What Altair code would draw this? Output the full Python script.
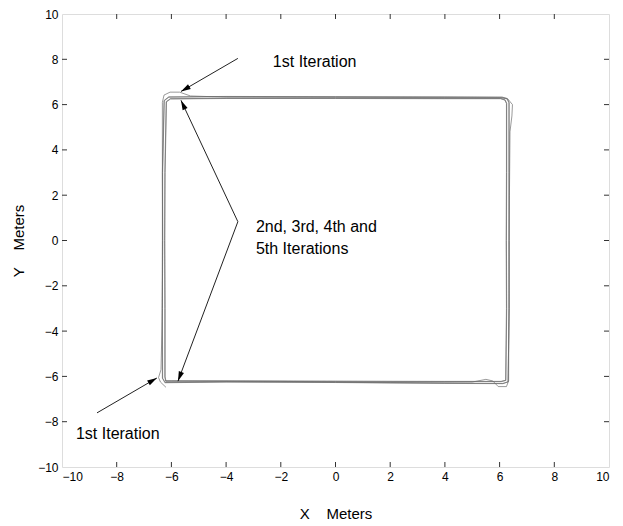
import math
import altair as alt
import pandas as pd

W, H = 547, 453
FONT = "Liberation Sans"

tick_values = [-10, -8, -6, -4, -2, 0, 2, 4, 6, 8, 10]
inner_ticks = [-8, -6, -4, -2, 0, 2, 4, 6, 8]

# Robot path, five iterations round the square (clockwise from bottom-left)
it1_x = [-6.20, -6.40, -6.47, -6.38, -6.33, -6.32, -6.33, -6.33, -6.27, -6.05, -5.70, -5.30, -4.0, 0.0, 4.0, 6.00, 6.30, 6.47, 6.45, 6.38, 6.36, 6.35, 6.34, 6.33, 6.25, 5.95, 5.75, 5.50, 5.0, 2.0, -2.0, -6.00, -6.22]
it1_y = [-6.48, -6.25, -6.05, -5.70, -3.0, 0.0, 3.0, 6.10, 6.42, 6.55, 6.55, 6.38, 6.33, 6.32, 6.31, 6.30, 6.25, 6.00, 5.50, 4.80, 2.0, 0.0, -3.0, -6.20, -6.45, -6.45, -6.20, -6.13, -6.25, -6.27, -6.22, -6.20, -6.20]

it2_x = [-6.22, -6.33, -6.34, -6.33, -6.33, -6.27, -6.10, -4.0, 0.0, 4.0, 6.10, 6.28, 6.35, 6.35, 6.35, 6.35, 6.31, 6.12, 4.0, 0.0, -4.0, -6.22]
it2_y = [-6.27, -6.08, -3.0, 0.0, 3.0, 6.18, 6.34, 6.36, 6.35, 6.34, 6.33, 6.27, 6.08, 3.0, 0.0, -3.0, -6.24, -6.31, -6.30, -6.26, -6.24, -6.27]

it3_x = [-6.20, -6.23, -6.23, -6.24, -6.23, -6.18, -6.03, -4.0, 0.0, 4.0, 6.04, 6.19, 6.25, 6.25, 6.24, 6.25, 6.22, 6.05, 4.0, 0.0, -4.0, -6.20]
it3_y = [-6.20, -6.02, -3.0, 0.0, 3.0, 6.12, 6.25, 6.27, 6.27, 6.26, 6.26, 6.20, 6.05, 3.0, 0.0, -3.0, -6.17, -6.22, -6.22, -6.21, -6.20, -6.20]

it4_x = [-6.24, -6.32, -6.33, -6.32, -6.32, -6.26, -6.09, -4.0, 0.0, 4.0, 6.09, 6.27, 6.34, 6.34, 6.34, 6.35, 6.31, 6.12, 4.0, 0.0, -4.0, -6.24]
it4_y = [-6.28, -6.08, -3.0, 0.0, 3.0, 6.17, 6.33, 6.35, 6.34, 6.33, 6.32, 6.26, 6.08, 3.0, 0.0, -3.0, -6.24, -6.32, -6.31, -6.27, -6.25, -6.28]

it5_x = [-6.21, -6.24, -6.24, -6.25, -6.24, -6.19, -6.04, -4.0, 0.0, 4.0, 6.04, 6.20, 6.26, 6.26, 6.25, 6.26, 6.23, 6.06, 4.0, 0.0, -4.0, -6.21]
it5_y = [-6.21, -6.03, -3.0, 0.0, 3.0, 6.13, 6.26, 6.28, 6.28, 6.27, 6.27, 6.21, 6.06, 3.0, 0.0, -3.0, -6.18, -6.23, -6.23, -6.22, -6.21, -6.21]

# Annotation arrows (start -> tip) and labels
arrow_x0 = [-3.57, -3.57, -3.57, -8.72]
arrow_y0 = [8.04, 0.83, 0.83, -7.61]
arrow_x1 = [-5.65, -5.65, -5.76, -6.53]
arrow_y1 = [6.58, 6.19, -6.21, -6.07]

label_text = ["1st Iteration", "2nd, 3rd, 4th and", "5th Iterations", "1st Iteration"]
label_x = [-2.29, -2.91, -2.91, -9.49]
label_y = [7.86, 0.61, -0.36, -8.54]

rows = []
for name, xs, ys in [("1", it1_x, it1_y), ("2", it2_x, it2_y), ("3", it3_x, it3_y),
                     ("4", it4_x, it4_y), ("5", it5_x, it5_y)]:
    for i, (a, b) in enumerate(zip(xs, ys)):
        rows.append({"iter": name, "seq": i, "x": a, "y": b})
path_df = pd.DataFrame(rows)

kx, ky = W / 20.0, H / 20.0
angles = []
for x0, y0, x1, y1 in zip(arrow_x0, arrow_y0, arrow_x1, arrow_y1):
    dx = (x1 - x0) * kx
    dy = -(y1 - y0) * ky
    angles.append(math.degrees(math.atan2(dx, -dy)) % 360)
arrow_df = pd.DataFrame({"x0": arrow_x0, "y0": arrow_y0, "x1": arrow_x1, "y1": arrow_y1, "ang": angles})
label_df = pd.DataFrame({"t": label_text, "x": label_x, "y": label_y})
tick_df = pd.DataFrame({"v": inner_ticks})

xscale = alt.Scale(domain=[-10, 10], nice=False, zero=False)
yscale = alt.Scale(domain=[-10, 10], nice=False, zero=False)

xaxis = alt.Axis(values=tick_values, ticks=False, grid=False, domain=False, labelPadding=4,
                 labelFont=FONT, labelFontSize=12, labelColor="black",
                 title="X\u00a0\u00a0\u00a0\u00a0Meters", titleFont=FONT, titleFontSize=15,
                 titleFontWeight="normal", titleColor="black", titlePadding=24)
yaxis = alt.Axis(values=tick_values, ticks=False, grid=False, domain=False, labelPadding=4,
                 labelFont=FONT, labelFontSize=12, labelColor="black",
                 title="Y\u00a0\u00a0\u00a0\u00a0Meters", titleFont=FONT, titleFontSize=15,
                 titleFontWeight="normal", titleColor="black", titlePadding=11)

paths = alt.Chart(path_df).mark_line(color="#6a6a6a", strokeWidth=0.75, opacity=0.9).encode(
    x=alt.X("x:Q", scale=xscale, axis=xaxis),
    y=alt.Y("y:Q", scale=yscale, axis=yaxis),
    detail="iter:N",
    order="seq:Q",
)

arrows = alt.Chart(arrow_df).mark_rule(color="#222", strokeWidth=1).encode(
    x=alt.X("x0:Q", scale=xscale), y=alt.Y("y0:Q", scale=yscale),
    x2="x1:Q", y2="y1:Q",
)

heads = alt.Chart(arrow_df).mark_point(
    shape="M0,0L0.28,1L-0.28,1Z", filled=True, color="black", opacity=1, size=380, strokeWidth=0
).encode(
    x=alt.X("x1:Q", scale=xscale), y=alt.Y("y1:Q", scale=yscale),
    angle=alt.Angle("ang:Q", scale=None),
)

labels = alt.Chart(label_df).mark_text(align="left", baseline="middle", font=FONT, fontSize=16,
                                       color="black").encode(
    x=alt.X("x:Q", scale=xscale), y=alt.Y("y:Q", scale=yscale), text="t:N",
)

tick_style = dict(color="#333", strokeWidth=1)
t_bottom = alt.Chart(tick_df).mark_rule(**tick_style).encode(
    x=alt.X("v:Q", scale=xscale), y=alt.value(H), y2=alt.value(H - 5))
t_top = alt.Chart(tick_df).mark_rule(**tick_style).encode(
    x=alt.X("v:Q", scale=xscale), y=alt.value(0), y2=alt.value(5))
t_left = alt.Chart(tick_df).mark_rule(**tick_style).encode(
    y=alt.Y("v:Q", scale=yscale), x=alt.value(0), x2=alt.value(5))
t_right = alt.Chart(tick_df).mark_rule(**tick_style).encode(
    y=alt.Y("v:Q", scale=yscale), x=alt.value(W), x2=alt.value(W - 5))

chart = alt.layer(paths, arrows, heads, labels, t_bottom, t_top, t_left, t_right).properties(
    width=W, height=H,
    autosize=alt.AutoSizeParams(type="none"),
    padding={"left": 54, "top": 6, "right": 6, "bottom": 59},
).configure_view(stroke="#333", strokeWidth=1).configure(background="white")

chart.save("out.html", embed_options={"renderer": "svg", "actions": False})
